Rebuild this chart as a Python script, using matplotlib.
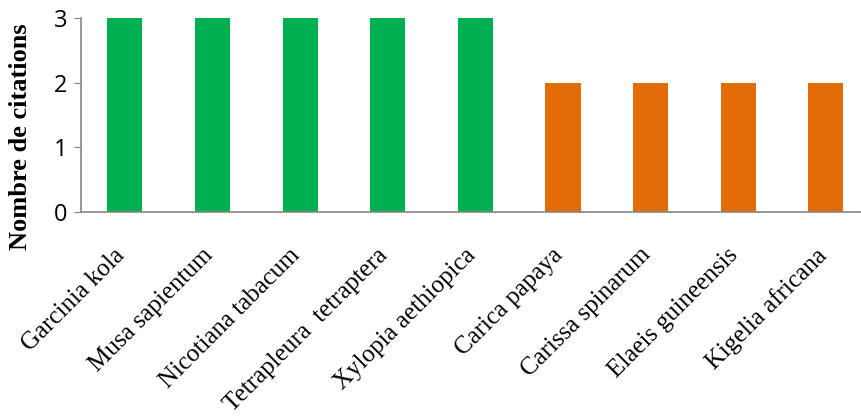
import matplotlib.pyplot as plt
import matplotlib.transforms as mtransforms

# Espèces et nombre de citations
especes = ["Garcinia kola", "Musa sapientum", "Nicotiana tabacum",
           "Tetrapleura  tetraptera", "Xylopia aethiopica", "Carica papaya",
           "Carissa spinarum", "Elaeis guineensis", "Kigelia africana"]
citations = [3, 3, 3, 3, 3, 2, 2, 2, 2]
couleurs = ["#00B050"] * 5 + ["#E36C09"] * 4

fig = plt.figure(figsize=(8.61, 4.18), dpi=100)
ax = fig.add_axes([81 / 861, 1 - 212 / 418, 780 / 861, 194 / 418])

pos = list(range(len(especes)))
ax.bar(pos, citations, width=0.4, color=couleurs)

ax.set_xlim(-0.5, 8.4)
ax.set_ylim(0, 3)
ax.set_yticks([0, 1, 2, 3])
ax.tick_params(axis="y", labelsize=17, colors="#868686", labelcolor="black",
               length=5, pad=5)
for lab in ax.get_yticklabels():
    lab.set_family("Open Sans")
ax.set_xticks(pos)
ax.set_xticklabels(especes, rotation=45, ha="right", rotation_mode="anchor",
                   family="Liberation Serif", fontsize=18)
ax.tick_params(axis="x", length=0, pad=23)
decal = mtransforms.ScaledTranslation(-11 / 100, 0, fig.dpi_scale_trans)
for lab in ax.get_xticklabels():
    lab.set_transform(lab.get_transform() + decal)

for s in ["top", "right"]:
    ax.spines[s].set_visible(False)
for s in ["left", "bottom"]:
    ax.spines[s].set_color("#868686")
    ax.spines[s].set_linewidth(1.2)

ax.set_ylabel("Nombre de citations", family="Liberation Serif",
              fontweight="bold", fontsize=19)
ax.yaxis.set_label_coords(-0.063, 0.387)

plt.savefig("out.png", dpi=100)
